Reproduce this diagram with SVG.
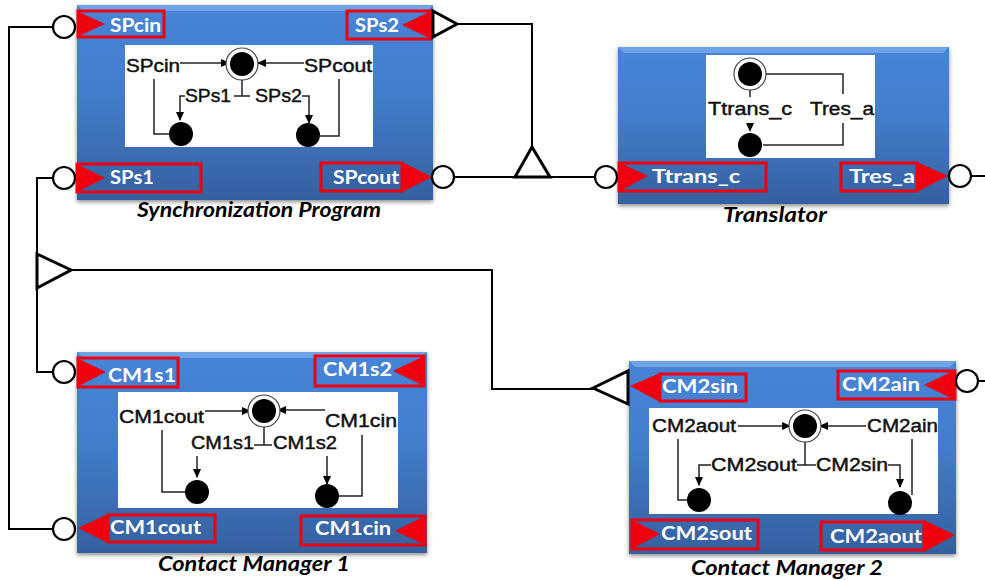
<svg xmlns="http://www.w3.org/2000/svg" width="985" height="580" viewBox="0 0 985 580">
<defs>
<linearGradient id="blue" x1="0" y1="0" x2="0" y2="1"><stop offset="0" stop-color="#4684d8"/><stop offset="0.45" stop-color="#437dcb"/><stop offset="1" stop-color="#35609f"/></linearGradient>
<filter id="sh" x="-5%" y="-5%" width="110%" height="110%"><feDropShadow dx="0" dy="2" stdDeviation="2" flood-color="#000" flood-opacity="0.45"/></filter>
<marker id="a" markerWidth="9" markerHeight="8" refX="8" refY="4" orient="auto" markerUnits="userSpaceOnUse"><path d="M0 0L9 4L0 8Z" fill="#000"/></marker>
</defs>
<style>
.box{fill:url(#blue);filter:url(#sh)}
.bev{fill:#6ea3e6}
.pan{fill:#fff}
.lb{fill:none;stroke:#f0000f;stroke-width:3}
.tri{fill:#f0000f}
.wt{font:700 19px Lato,"Open Sans",sans-serif;fill:#fff}
.cap{font:italic 700 20px Lato,"Open Sans",sans-serif;fill:#000}
.in{font:400 18px "Liberation Sans",Arial,sans-serif;fill:#111;stroke:#111;stroke-width:.45}
.il{fill:none;stroke:#222;stroke-width:1.5}
.ar{marker-end:url(#a)}
.ring{fill:#fff;stroke:#444;stroke-width:1.2}
.dot{fill:#000}
.port{fill:#fff;stroke:#000;stroke-width:2.2}
.pt{fill:#fff;stroke:#000;stroke-width:3}
.con{fill:none;stroke:#000;stroke-width:2}
</style>
<g id="connectors">
<path class="con" d="M53 27H9V529H53"/>
<path class="con" d="M53 178H37V372H53"/>
<path class="con" d="M72 270H492V389H594"/>
<path class="con" d="M457 24H532V147"/>
<path class="con" d="M454 177H595"/>
<path class="con" d="M971 176H985"/>
<path class="con" d="M978 381H985"/>
<path class="pt" d="M37 254L71 270L37 288Z"/>
<path class="pt" d="M532 147L515 177H550Z"/>
</g>
<g id="sync-program">
<rect class="box" x="77" y="5" width="356" height="195"/><path class="bev" d="M77 5H433L427 11H83Z"/>
<rect class="pan" x="125" y="45" width="248" height="102"/>
<path class="il ar" d="M180 63H229"/><path class="il ar" d="M304 63H258"/><path class="il" d="M242 78V96M234 96H250"/>
<path class="il ar" d="M185 96H180V120"/><path class="il ar" d="M302 96H309V123"/>
<path class="il" d="M154 79V134H170M339 79V136H320"/>
<circle class="ring" cx="242" cy="64" r="16"/><circle class="dot" cx="242" cy="64" r="12"/><circle class="dot" cx="181" cy="134" r="12"/><circle class="dot" cx="308" cy="135" r="12"/>
<text class="in" x="126" y="72" textLength="54" lengthAdjust="spacingAndGlyphs">SPcin</text>
<text class="in" x="304" y="72" textLength="68" lengthAdjust="spacingAndGlyphs">SPcout</text>
<text class="in" x="185" y="102" textLength="46" lengthAdjust="spacingAndGlyphs">SPs1</text>
<text class="in" x="255" y="102" textLength="47" lengthAdjust="spacingAndGlyphs">SPs2</text>
<rect class="lb" x="78" y="11" width="86" height="26"/><path class="tri" d="M77 11L105 24L77 37Z"/>
<rect class="lb" x="347" y="11" width="84" height="28"/><path class="tri" d="M431 11L402 25L431 39Z"/>
<rect class="lb" x="77" y="164" width="124" height="28"/><path class="tri" d="M77 164L105 178L77 192Z"/>
<rect class="lb" x="321" y="163" width="81" height="28"/><path class="tri" d="M402 162L432 177L402 192Z"/>
<text class="wt" x="110" y="32" textLength="51" lengthAdjust="spacingAndGlyphs">SPcin</text>
<text class="wt" x="355" y="32" textLength="44" lengthAdjust="spacingAndGlyphs">SPs2</text>
<text class="wt" x="110" y="184" textLength="44" lengthAdjust="spacingAndGlyphs">SPs1</text>
<text class="wt" x="333" y="184" textLength="66" lengthAdjust="spacingAndGlyphs">SPcout</text>
<circle class="port" cx="64" cy="27" r="11"/><circle class="port" cx="64" cy="178" r="11"/><circle class="port" cx="443" cy="177" r="11"/>
<path class="pt" d="M433 11L457 24L433 37Z"/>
<text class="cap" x="137" y="217" textLength="244" lengthAdjust="spacingAndGlyphs">Synchronization Program</text>
</g>
<g id="translator">
<rect class="box" x="618" y="47" width="331" height="157"/><path class="bev" d="M618 47H949L943 53H624Z"/>
<rect class="pan" x="706" y="55" width="169" height="103"/>
<path class="il" d="M750 86V97M766 74H843V94M843 123V145H763"/>
<path class="dot" d="M746 123H754L750 132Z"/>
<circle class="ring" cx="750" cy="74" r="16"/><circle class="dot" cx="750" cy="74" r="12"/><circle class="dot" cx="750" cy="145" r="12"/>
<text class="in" x="708" y="115" textLength="84" lengthAdjust="spacingAndGlyphs">Ttrans_c</text>
<text class="in" x="810" y="115" textLength="64" lengthAdjust="spacingAndGlyphs">Tres_a</text>
<rect class="lb" x="619" y="163" width="147" height="28"/><path class="tri" d="M618 162L648 176L618 192Z"/>
<rect class="lb" x="841" y="163" width="76" height="28"/><path class="tri" d="M917 162L948 176L917 192Z"/>
<text class="wt" x="652" y="183" textLength="88" lengthAdjust="spacingAndGlyphs">Ttrans_c</text>
<text class="wt" x="849" y="183" textLength="66" lengthAdjust="spacingAndGlyphs">Tres_a</text>
<circle class="port" cx="606" cy="177" r="11"/><circle class="port" cx="960" cy="176" r="11"/>
<text class="cap" x="723" y="222" textLength="104" lengthAdjust="spacingAndGlyphs">Translator</text>
</g>
<g id="contact-manager-1">
<rect class="box" x="77" y="352" width="350" height="201"/><path class="bev" d="M77 352H427L421 358H83Z"/>
<rect class="pan" x="118" y="392" width="280" height="116"/>
<path class="il ar" d="M205 411H250"/><path class="il ar" d="M325 410H278"/><path class="il" d="M264 425V445M254 445H272"/>
<path class="il ar" d="M197 456V477"/><path class="il ar" d="M327 456V484"/>
<path class="il" d="M162 430V492H185M362 435V496H339"/>
<circle class="ring" cx="264" cy="411" r="16"/><circle class="dot" cx="264" cy="411" r="12"/><circle class="dot" cx="197" cy="492" r="12"/><circle class="dot" cx="327" cy="496" r="12"/>
<text class="in" x="119" y="423" textLength="85" lengthAdjust="spacingAndGlyphs">CM1cout</text>
<text class="in" x="325" y="427" textLength="72" lengthAdjust="spacingAndGlyphs">CM1cin</text>
<text class="in" x="191" y="449" textLength="63" lengthAdjust="spacingAndGlyphs">CM1s1</text>
<text class="in" x="273" y="449" textLength="64" lengthAdjust="spacingAndGlyphs">CM1s2</text>
<rect class="lb" x="78" y="358" width="100" height="29"/><path class="tri" d="M77 358L106 372L77 387Z"/>
<rect class="lb" x="315" y="356" width="109" height="30"/><path class="tri" d="M424 356L393 371L424 386Z"/>
<rect class="lb" x="108" y="515" width="107" height="27"/><path class="tri" d="M78 528L108 514V543Z"/>
<rect class="lb" x="301" y="516" width="124" height="29"/><path class="tri" d="M425 516L395 531L425 545Z"/>
<text class="wt" x="108" y="382" textLength="68" lengthAdjust="spacingAndGlyphs">CM1s1</text>
<text class="wt" x="323" y="376" textLength="69" lengthAdjust="spacingAndGlyphs">CM1s2</text>
<text class="wt" x="110" y="534" textLength="91" lengthAdjust="spacingAndGlyphs">CM1cout</text>
<text class="wt" x="315" y="535" textLength="76" lengthAdjust="spacingAndGlyphs">CM1cin</text>
<circle class="port" cx="64" cy="372" r="11"/><circle class="port" cx="64" cy="529" r="11"/>
<text class="cap" x="158" y="571" textLength="192" lengthAdjust="spacingAndGlyphs">Contact Manager 1</text>
</g>
<g id="contact-manager-2">
<rect class="box" x="629" y="361" width="327" height="193"/><path class="bev" d="M629 361H956L950 367H635Z"/>
<rect class="pan" x="649" y="408" width="289" height="106"/>
<path class="il ar" d="M738 426H790"/><path class="il ar" d="M866 426H820"/><path class="il" d="M805 440V465M797 465H816"/>
<path class="il ar" d="M711 465H699V485"/><path class="il ar" d="M888 465H900V487"/>
<path class="il" d="M678 439V500H687M912 439V495"/>
<circle class="ring" cx="805" cy="426" r="16"/><circle class="dot" cx="805" cy="426" r="12"/><circle class="dot" cx="699" cy="500" r="12"/><circle class="dot" cx="900" cy="503" r="12"/>
<text class="in" x="652" y="432" textLength="84" lengthAdjust="spacingAndGlyphs">CM2aout</text>
<text class="in" x="867" y="432" textLength="71" lengthAdjust="spacingAndGlyphs">CM2ain</text>
<text class="in" x="711" y="471" textLength="86" lengthAdjust="spacingAndGlyphs">CM2sout</text>
<text class="in" x="816" y="471" textLength="72" lengthAdjust="spacingAndGlyphs">CM2sin</text>
<rect class="lb" x="660" y="374" width="86" height="27"/><path class="tri" d="M630 386L660 373V402Z"/>
<rect class="lb" x="838" y="371" width="117" height="28"/><path class="tri" d="M955 370L924 385L955 400Z"/>
<rect class="lb" x="632" y="520" width="126" height="29"/><path class="tri" d="M632 520L660 534L632 549Z"/>
<rect class="lb" x="821" y="522" width="103" height="28"/><path class="tri" d="M924 520L955 535L924 552Z"/>
<text class="wt" x="662" y="393" textLength="76" lengthAdjust="spacingAndGlyphs">CM2sin</text>
<text class="wt" x="842" y="391" textLength="78" lengthAdjust="spacingAndGlyphs">CM2ain</text>
<text class="wt" x="661" y="540" textLength="91" lengthAdjust="spacingAndGlyphs">CM2sout</text>
<text class="wt" x="830" y="543" textLength="92" lengthAdjust="spacingAndGlyphs">CM2aout</text>
<circle class="port" cx="967" cy="381" r="11"/>
<path class="pt" d="M593 388L628 371V404Z"/>
<text class="cap" x="691" y="575" textLength="192" lengthAdjust="spacingAndGlyphs">Contact Manager 2</text>
</g>
</svg>
